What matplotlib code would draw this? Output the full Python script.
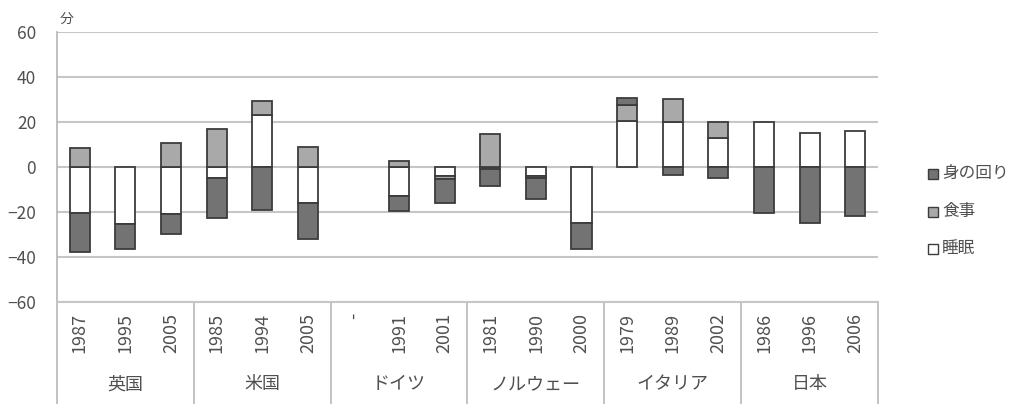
import numpy as np
import matplotlib
matplotlib.use("Agg")
import matplotlib.pyplot as plt
from matplotlib.patches import Rectangle
from matplotlib.transforms import blended_transform_factory

plt.rcParams["font.family"] = ["Noto Sans CJK JP", "DejaVu Sans"]

# change in minutes per day, by country and survey year
countries = ["英国", "米国", "ドイツ", "ノルウェー", "イタリア", "日本"]
years = ["1987", "1995", "2005", "1985", "1994", "2005", "-", "1991", "2001",
         "1981", "1990", "2000", "1979", "1989", "2002", "1986", "1996", "2006"]
sleep = [-20.5, -25.5, -21, -5, 23, -16, np.nan, -13, -4,
         -1, -4, -25, 20.5, 20, 13, 20, 15, 16]
meal = [8.5, 0, 10.5, 17, 6.5, 9, np.nan, 2.5, -1.5,
        14.5, -0.7, 0, 7, 10, 7, 0, 0, 0]
personal = [-17.5, -11, -9, -17.5, -19, -16, np.nan, -6.5, -10.5,
            -7.5, -9.5, -11.5, 3, -3.5, -5, -20.5, -25, -22]

series = [("睡眠", sleep, "#ffffff"),
          ("食事", meal, "#a9a9a9"),
          ("身の回り", personal, "#737373")]

fig = plt.figure(figsize=(10.11, 4.04), dpi=100)
ax = fig.add_axes([0.0564, 0.2525, 0.812, 0.6683])

x = np.arange(len(years))
pos_base = np.zeros(len(years))
neg_base = np.zeros(len(years))
for name, vals, color in series:
    v = np.array(vals, dtype=float)
    ok = ~np.isnan(v) & (v != 0)
    bottom = np.where(v > 0, pos_base, neg_base)
    ax.bar(x[ok], v[ok], bottom=bottom[ok], width=0.44, color=color,
           edgecolor="#3c3c3c", linewidth=1.3, zorder=3)
    vv = np.nan_to_num(v)
    pos_base += np.where(vv > 0, vv, 0)
    neg_base += np.where(vv < 0, vv, 0)

ax.set_xlim(-0.5, len(years) - 0.5)
ax.set_ylim(-60, 60)
ax.set_yticks(range(-60, 61, 20))
ax.tick_params(axis="y", length=0, pad=15, labelsize=12.5, labelcolor="#505050")
ax.set_xticks([])
ax.grid(axis="y", color="#c6c6c6", linewidth=1.5, zorder=0)
ax.set_axisbelow(True)
for side in ("top", "right"):
    ax.spines[side].set_visible(False)
ax.spines["left"].set_color("#b5b5b5")
ax.spines["bottom"].set_color("#c6c6c6")
ax.spines["left"].set_linewidth(1.2)
ax.spines["bottom"].set_linewidth(1.5)

# two-level category axis: years, then countries with separators
trans = blended_transform_factory(ax.transData, ax.transAxes)
for i, yr in enumerate(years):
    ax.text(i, -0.04, yr, transform=trans, rotation=90, ha="center", va="top",
            fontsize=13, color="#505050")
n = len(years) // len(countries)
for g, name in enumerate(countries):
    ax.text(g * n + (n - 1) / 2, -0.305, name, transform=trans, ha="center",
            va="center", fontsize=13, color="#505050")
for g in range(len(countries) + 1):
    ax.plot([g * n - 0.5] * 2, [0, -0.38], transform=trans, color="#b8b8b8",
            linewidth=1.2, clip_on=False)

fig.text(60 / 1011, 1 - 19 / 404, "分", fontsize=10, color="#505050",
         va="center", ha="left")

# legend, top item is the last stacked series
for k, (name, vals, color) in enumerate(reversed(series)):
    yc = 1 - (174 + 37.5 * k) / 404
    fig.patches.append(Rectangle((928 / 1011, yc - 5 / 404), 10 / 1011, 10 / 404,
                                 transform=fig.transFigure, facecolor=color,
                                 edgecolor="#3c3c3c", linewidth=1.0))
    fig.text(942 / 1011, yc, name, fontsize=12, color="#505050",
             va="center", ha="left")

fig.savefig("out.png", dpi=100)
